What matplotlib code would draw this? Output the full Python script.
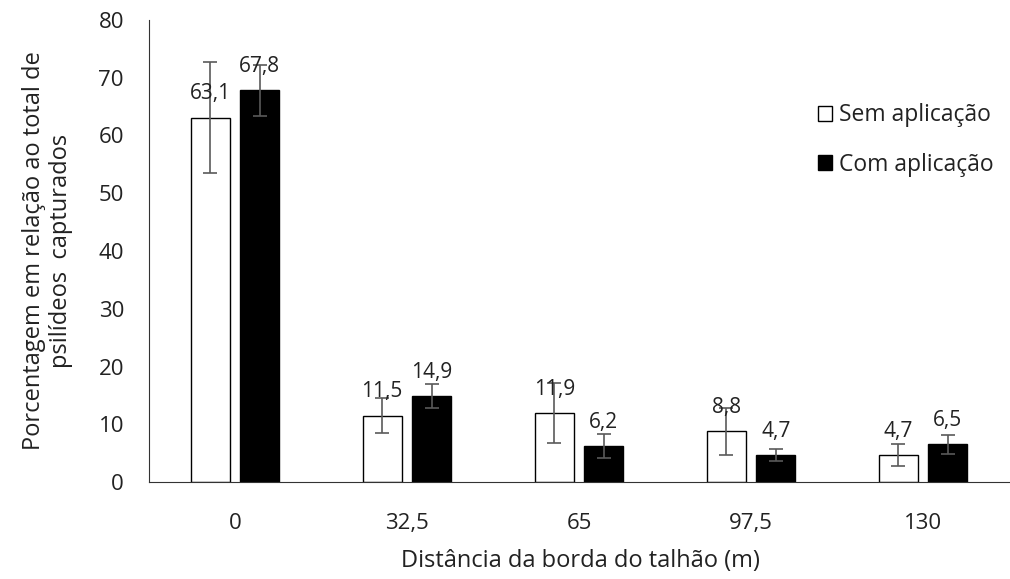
import matplotlib
matplotlib.use("Agg")
import matplotlib.pyplot as plt
import numpy as np

plt.rcParams['font.family'] = ['Open Sans', 'DejaVu Sans']

distancias = ['0', '32,5', '65', '97,5', '130']
sem_aplic = [63.1, 11.5, 11.9, 8.8, 4.7]
sem_erro = [9.6, 3.0, 5.2, 4.1, 1.9]
com_aplic = [67.8, 14.9, 6.2, 4.7, 6.5]
com_erro = [4.4, 2.1, 2.1, 1.0, 1.6]

fig = plt.figure(figsize=(10.1, 5.79), dpi=100)
ax = fig.add_axes([0.1475, 0.1675, 0.855, 0.798])

x = np.arange(len(distancias))
w = 0.227
off = 0.288
err_kw = dict(ecolor='#5a5a5a', elinewidth=1.2, capsize=5, capthick=1.2)

ax.bar(x - off / 2, sem_aplic, w, color='white', edgecolor='black',
       linewidth=1.0, yerr=sem_erro, error_kw=err_kw, label='Sem aplicação')
ax.bar(x + off / 2, com_aplic, w, color='black', edgecolor='black',
       linewidth=1.0, yerr=com_erro, error_kw=err_kw, label='Com aplicação')

for xs, vals in [(x - off / 2, sem_aplic), (x + off / 2, com_aplic)]:
    for xi, v in zip(xs, vals):
        ax.annotate(f'{v:.1f}'.replace('.', ','), (xi, v), xytext=(0, 17),
                    textcoords='offset points', ha='center', va='center',
                    fontsize=15, color='#222222')

ax.set_xlim(-0.5, 4.52)
ax.set_ylim(0, 80)
ax.set_yticks(range(0, 81, 10))
ax.set_xticks(x)
ax.set_xticklabels(distancias)
ax.tick_params(axis='both', length=0, labelsize=16, colors='#222222')
ax.tick_params(axis='x', pad=22)
ax.tick_params(axis='y', pad=18)

for s in ['top', 'right']:
    ax.spines[s].set_visible(False)
ax.spines['left'].set_color('#333333')
ax.spines['bottom'].set_color('#333333')

ax.set_xlabel('Distância da borda do talhão (m)', fontsize=17,
              color='#222222', labelpad=11)
ax.set_ylabel('Porcentagem em relação ao total de\npsilídeos  capturados',
              fontsize=17, color='#222222', labelpad=18, linespacing=1.2)

ax.legend(loc='upper left', bbox_to_anchor=(0.751, 0.864), frameon=False,
          fontsize=16.5, handlelength=0.6, handleheight=0.6, handletextpad=0.3,
          labelspacing=1.1, labelcolor='#222222')

fig.savefig('out.png', dpi=100)
